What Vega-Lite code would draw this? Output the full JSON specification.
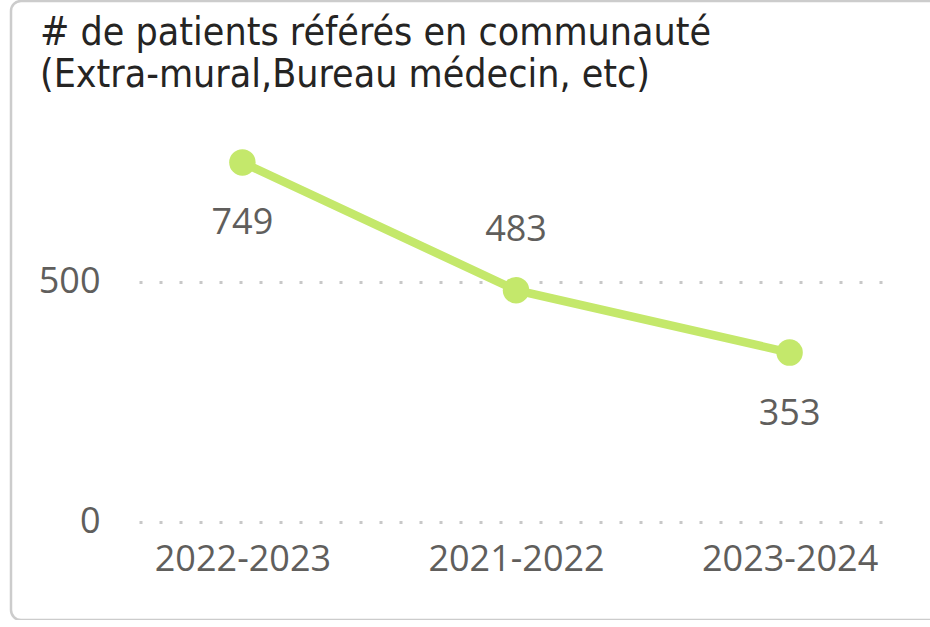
{
  "$schema": "https://vega.github.io/schema/vega-lite/v6.json",
  "autosize": {"type": "none"},
  "padding": {"left": 11, "top": 1, "right": 0, "bottom": 0},
  "width": 930,
  "height": 619,
  "background": "white",
  "config": {
    "view": {"stroke": "#cccccc", "strokeWidth": 2.5, "cornerRadius": 10},
    "font": "Open Sans"
  },
  "title": {
    "text": ["# de patients référés en communauté", "(Extra-mural,Bureau médecin, etc)"],
    "anchor": "start",
    "frame": "group",
    "orient": "top",
    "offset": -94,
    "dx": 29,
    "fontSize": 39,
    "fontWeight": "normal",
    "lineHeight": 42,
    "color": "#252423",
    "font": "DejaVu Sans Condensed, Open Sans"
  },
  "data": {
    "values": [
      {"annee": "2022-2023", "patients": 749},
      {"annee": "2021-2022", "patients": 483},
      {"annee": "2023-2024", "patients": 353}
    ]
  },
  "encoding": {
    "x": {
      "field": "annee",
      "type": "ordinal",
      "sort": null,
      "scale": {"type": "point", "range": [128, 882], "padding": 0.378},
      "axis": {
        "title": null,
        "orient": "bottom",
        "offset": -78,
        "domain": false,
        "ticks": false,
        "grid": false,
        "labelPadding": 0,
        "labelBaseline": "top",
        "labelAngle": 0,
        "labelFontSize": 36,
        "labelColor": "#605E5C",
        "labelFont": "Open Sans"
      }
    },
    "y": {
      "field": "patients",
      "type": "quantitative",
      "scale": {"domain": [-204.2, 1085.4], "nice": false, "zero": false},
      "axis": {
        "title": null,
        "values": [0, 500],
        "offset": -89,
        "domain": false,
        "ticks": false,
        "labelPadding": 0,
        "labelFontSize": 36,
        "labelColor": "#605E5C",
        "labelFont": "Open Sans",
        "grid": true,
        "gridColor": "#c8c8c8",
        "gridWidth": 3,
        "gridDash": [3, 17]
      }
    }
  },
  "layer": [
    {
      "mark": {"type": "line", "color": "#C4E86B", "strokeWidth": 8.5}
    },
    {
      "mark": {"type": "point", "filled": true, "color": "#C4E86B", "opacity": 1, "size": 700}
    },
    {
      "transform": [{"filter": "datum.annee !== '2021-2022'"}],
      "mark": {"type": "text", "dy": 61, "fontSize": 36, "color": "#605E5C", "font": "Open Sans"},
      "encoding": {"text": {"field": "patients", "type": "quantitative"}}
    },
    {
      "transform": [{"filter": "datum.annee === '2021-2022'"}],
      "mark": {"type": "text", "dy": -60, "fontSize": 36, "color": "#605E5C", "font": "Open Sans"},
      "encoding": {"text": {"field": "patients", "type": "quantitative"}}
    }
  ]
}
